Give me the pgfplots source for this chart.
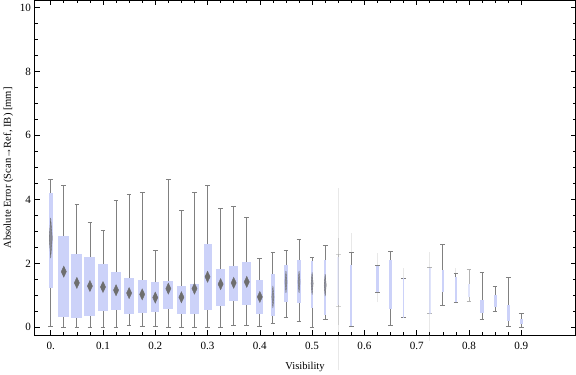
\documentclass[border=0pt]{standalone}
\usepackage{pgfplots}
\pgfplotsset{compat=1.18}
\usepgfplotslibrary{statistics}
\usepackage{fontspec}
\setmainfont{Liberation Serif}
\definecolor{boxc}{RGB}{204,210,249}
\definecolor{whisk}{RGB}{128,128,128}
\definecolor{diam}{RGB}{110,110,110}
% \bx[style]{pos}{lw}{lq}{med}{uq}{uw}{extend}
\newcommand{\bx}[8][]{\addplot[#1, boxplot prepared={draw position=#2, lower whisker=#3, lower quartile=#4, median=#5, upper quartile=#6, upper whisker=#7, box extend=#8, whisker extend=0.009}] coordinates {};}
\begin{document}
\begin{tikzpicture}
\begin{axis}[
  scale only axis, width=538bp, height=333bp,
  xmin=-0.031, xmax=1.004, ymin=-0.25, ymax=10.22,
  xtick={0,0.1,0.2,0.3,0.4,0.5,0.6,0.7,0.8,0.9},
  xticklabels={0.,0.1,0.2,0.3,0.4,0.5,0.6,0.7,0.8,0.9},
  minor x tick num=3,
  ytick={0,2,4,6,8,10}, minor y tick num=3,
  major tick length=5bp, minor tick length=3bp,
  tick style={black, line width=0.6bp},
  axis line style={line width=0.8bp},
  /pgf/number format/assume math mode=true,
  ticklabel style={font=\fontsize{11bp}{13bp}\selectfont},
  yticklabel style={xshift=0bp},
  xticklabel style={yshift=-3.5bp},
  label style={font=\fontsize{10.5bp}{12bp}\selectfont},
  xlabel={Visibility},
  xlabel style={yshift=-5bp},
  ylabel={Absolute Error (Scan→Ref, IB) [mm]},
  clip=false,
  boxplot/draw direction=y,
  boxplot/every box/.style={draw=none, fill=boxc},
  boxplot/every whisker/.style={draw=whisk, line width=0.8bp},
  boxplot/every median/.style={draw=none},
]
% faint extended lines
\addplot[draw=whisk, opacity=0.18, line width=0.8bp] coordinates {(0.55,-1.35) (0.55,4.37)};
\addplot[draw=whisk, opacity=0.25, line width=1.2bp] coordinates {(0.55,0.07) (0.55,2.8)};
\addplot[draw=whisk, opacity=0.18, line width=0.8bp] coordinates {(0.575,2.35) (0.575,2.95)};
\addplot[draw=whisk, opacity=0.18, line width=0.8bp] coordinates {(0.625,0.79) (0.625,2.33)};
\addplot[draw=whisk, opacity=0.18, line width=0.8bp] coordinates {(0.675,1.54) (0.675,1.84)};
\addplot[draw=whisk, opacity=0.18, line width=0.8bp] coordinates {(0.725,-0.42) (0.725,2.36)};
\addplot[draw=whisk, opacity=0.18, line width=0.8bp] coordinates {(0.75,1.0) (0.75,2.0)};
\addplot[draw=whisk, opacity=0.18, line width=0.8bp] coordinates {(0.775,1.57) (0.775,1.85)};
% boxes
\bx{0}{0.02}{1.24}{2.79}{4.19}{4.63}{0.0083}
\bx{0.025}{0.0}{0.32}{1.74}{2.84}{4.44}{0.0206}
\bx{0.05}{0.0}{0.28}{1.39}{2.29}{3.84}{0.0206}
\bx{0.075}{0.0}{0.36}{1.29}{2.21}{3.29}{0.021}
\bx{0.1}{0.0}{0.52}{1.26}{1.99}{3.02}{0.018}
\bx{0.125}{0.0}{0.53}{1.16}{1.73}{3.97}{0.019}
\bx{0.15}{0.05}{0.42}{1.07}{1.55}{4.16}{0.018}
\bx{0.175}{0.02}{0.45}{1.03}{1.48}{4.22}{0.0165}
\bx{0.2}{0.02}{0.48}{0.93}{1.42}{2.42}{0.0155}
\bx{0.225}{0.0}{0.57}{1.21}{1.45}{4.63}{0.019}
\bx{0.25}{0.0}{0.42}{0.94}{1.29}{3.66}{0.0167}
\bx{0.275}{0.0}{0.42}{1.21}{1.34}{4.22}{0.016}
\bx{0.3}{0.0}{0.55}{1.58}{2.62}{4.44}{0.0155}
\bx{0.325}{0.0}{0.67}{1.35}{1.83}{3.73}{0.016}
\bx{0.35}{0.05}{0.82}{1.39}{1.93}{3.78}{0.0173}
\bx{0.375}{0.05}{0.71}{1.42}{2.05}{3.43}{0.018}
\bx{0.4}{0.02}{0.42}{0.95}{1.48}{2.14}{0.013}
\bx{0.425}{0.12}{0.36}{0.95}{1.67}{2.33}{0.0083}
\bx{0.45}{0.30}{0.80}{1.42}{1.95}{2.40}{0.0065}
\bx{0.475}{0.18}{0.75}{1.42}{2.10}{2.76}{0.006}
\bx{0.5}{0.0}{0.59}{1.37}{2.08}{2.19}{0.0045}
\bx{0.525}{0.24}{0.37}{1.32}{2.12}{2.56}{0.005}
\bx[opacity=0.35]{0.55}{0.66}{0.70}{1.4}{2.20}{2.27}{0.004}
\bx{0.575}{0.04}{0.04}{1.0}{1.95}{2.35}{0.004}
\bx{0.625}{1.10}{1.10}{1.5}{1.93}{1.93}{0.004}
\bx{0.65}{0.06}{0.56}{1.3}{2.12}{2.38}{0.004}
\bx{0.675}{0.30}{0.30}{0.9}{1.54}{1.54}{0.003}
\bx[opacity=0.6]{0.725}{0.42}{0.42}{1.1}{1.86}{1.86}{0.003}
\bx{0.75}{0.67}{1.09}{1.4}{1.78}{2.60}{0.004}
\bx{0.775}{0.78}{0.78}{1.2}{1.57}{1.70}{0.004}
\bx[opacity=0.6]{0.8}{0.81}{0.94}{1.15}{1.36}{1.80}{0.003}
\bx{0.825}{0.26}{0.45}{0.65}{0.84}{1.72}{0.006}
\bx{0.85}{0.49}{0.63}{0.8}{1.0}{1.28}{0.006}
\bx{0.875}{0.02}{0.19}{0.45}{0.71}{1.57}{0.006}
\bx{0.9}{0.0}{0.10}{0.17}{0.25}{0.44}{0.005}
% mean diamonds
\addplot[only marks, mark=diamond*, mark size=5.5bp, color=diam, mark options={xscale=0.62, draw=none, fill=diam}] coordinates {
(0.025,1.74) (0.05,1.39) (0.075,1.29) (0.1,1.26) (0.125,1.16) (0.15,1.07) (0.175,1.03) (0.2,0.93) (0.225,1.21) (0.25,0.94) (0.275,1.21) (0.3,1.58) (0.325,1.35) (0.35,1.39) (0.375,1.42) (0.4,0.95)};
\addplot[only marks, mark=diamond*, mark size=20bp, color=diam, mark options={xscale=0.1, draw=none, fill=diam, fill opacity=0.7}] coordinates {(0,2.79)};
\addplot[only marks, mark=diamond*, mark size=11bp, color=diam, mark options={xscale=0.12, draw=none, fill=diam, fill opacity=0.6}] coordinates {
(0.425,0.95) (0.45,1.42) (0.475,1.42) (0.5,1.37) (0.525,1.32)};
\end{axis}
\end{tikzpicture}
\end{document}
